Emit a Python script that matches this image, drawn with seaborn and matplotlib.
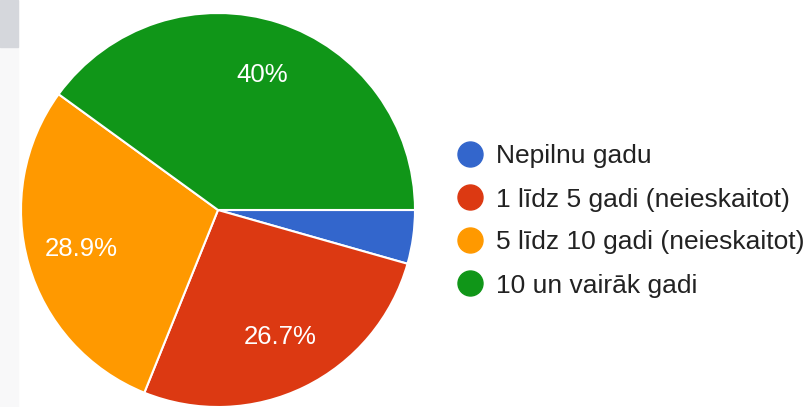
import matplotlib
matplotlib.use("Agg")
import matplotlib.pyplot as plt
import seaborn as sns
from matplotlib.lines import Line2D
from matplotlib.patches import Rectangle

# data
categories = ["Nepilnu gadu", "1 līdz 5 gadi (neieskaitot)",
              "5 līdz 10 gadi (neieskaitot)", "10 un vairāk gadi"]
percents = [4.4, 26.7, 28.9, 40.0]
colors = ["#3366cc", "#dc3912", "#ff9900", "#109618"]

sns.set_style("white")
plt.rcParams['font.family'] = ['Liberation Sans', 'DejaVu Sans']

fig = plt.figure(figsize=(8.1, 4.07), dpi=100)

# screenshot leftovers at the top left
fig.patches.append(Rectangle((0, 0), 18/810, 1, transform=fig.transFigure,
                             color="#f8f8f9", zorder=0))
fig.patches.append(Rectangle((0, 1 - 47/407), 18/810, 47/407, transform=fig.transFigure,
                             color="#d5d7dc", zorder=0))

ax = fig.add_axes([21/810, 0.0, 394/810, 394/407])


def fmt(p):
    if p < 5:
        return ""
    return f"{p:.1f}".rstrip("0").rstrip(".") + "%"


wedges, texts, autotexts = ax.pie(percents, colors=colors, startangle=0, counterclock=False,
                                  autopct=fmt, pctdistance=0.72,
                                  wedgeprops=dict(edgecolor="white", linewidth=1.5),
                                  textprops=dict(color="white", fontsize=18.5))
ax.set_xlim(-1, 1)
ax.set_ylim(-1, 1)
ax.set_aspect("equal")
ax.axis("off")

handles = [Line2D([0], [0], marker="o", linestyle="", markersize=18,
                  markerfacecolor=c, markeredgecolor=c) for c in colors]
fig.legend(handles, categories, loc="center left", bbox_to_anchor=(444/810, 0.5 - 17.5/407),
           frameon=False, fontsize=19, labelcolor="#222222",
           handletextpad=0.38, labelspacing=0.72, handlelength=1.2, borderaxespad=0)

fig.savefig("out.png", dpi=100)
